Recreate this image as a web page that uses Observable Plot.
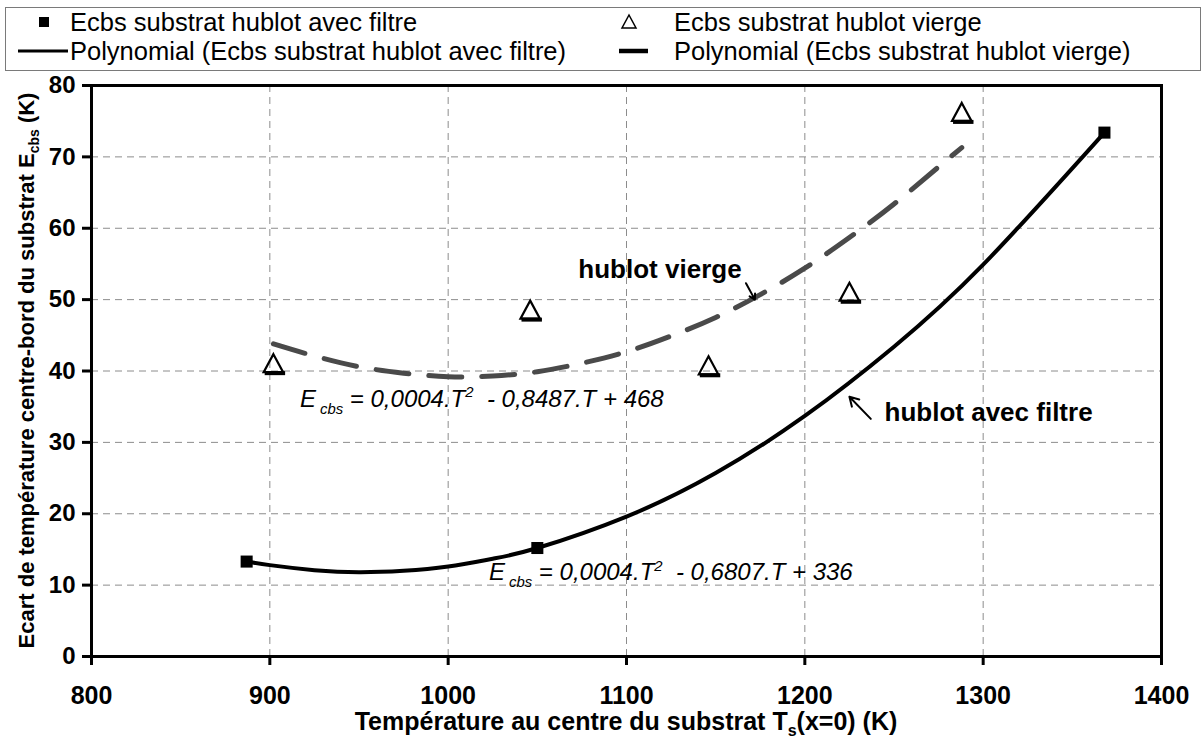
<!DOCTYPE html>
<html>
<head>
<meta charset="utf-8">
<script src="https://cdn.jsdelivr.net/npm/d3@7"></script>
<script src="https://cdn.jsdelivr.net/npm/@observablehq/plot@0.6"></script>
<style>
  html, body { margin: 0; padding: 0; background: #fff; }
  #chart { width: 1204px; height: 737px; position: relative; font-family: "Liberation Sans", Arial, sans-serif; }
  #chart svg { display: block; }
  .pre { white-space: pre; }
</style>
</head>
<body>
<div id="chart"></div>
<script>
// ---- data ----
const tempFiltre = [887, 1050, 1368];
const ecbsFiltre = [13.3, 15.2, 73.4];
const tempVierge = [902, 1046, 1146, 1225, 1288];
const ecbsVierge = [41.1, 48.6, 40.8, 51.1, 76.3];
// polynomial trend lines
const polyFiltreT = [887, 900, 925, 950, 975, 1000, 1025, 1050, 1100, 1150, 1200, 1250, 1300, 1368];
const polyFiltreE = [13.3, 12.8, 12.1, 11.8, 12.0, 12.6, 13.7, 15.2, 19.6, 25.7, 33.7, 43.4, 54.9, 73.4];
const polyViergeT = [902, 925, 950, 975, 1000, 1025, 1050, 1075, 1100, 1125, 1150, 1175, 1200, 1225, 1250, 1275, 1288];
const polyViergeE = [43.8, 42.1, 40.6, 39.7, 39.2, 39.3, 39.9, 41.1, 42.7, 44.9, 47.5, 50.7, 54.4, 58.7, 63.4, 68.6, 71.3];
const xTicks = [800, 900, 1000, 1100, 1200, 1300, 1400];
const yTicks = [0, 10, 20, 30, 40, 50, 60, 70, 80];
const legendLabels = [
  "Ecbs substrat hublot avec filtre",
  "Ecbs substrat hublot vierge",
  "Polynomial (Ecbs substrat hublot avec filtre)",
  "Polynomial (Ecbs substrat hublot vierge)"
];
const xTitle = ["Température au centre du substrat T", "s", "(x=0) (K)"];
const yTitle = ["Ecart de température centre-bord du substrat E", "cbs", " (K)"];
const eqVierge = ["E", "cbs", " = 0,0004.T", "2", "  - 0,8487.T + 468"];
const eqFiltre = ["E", "cbs", " = 0,0004.T", "2", "  - 0,6807.T + 336"];
const noteVierge = "hublot vierge";
const noteFiltre = "hublot avec filtre";

// ---- tables built from the arrays ----
const filtre = tempFiltre.map((t, i) => ({t, e: ecbsFiltre[i]}));
const vierge = tempVierge.map((t, i) => ({t, e: ecbsVierge[i]}));
const polyFiltre = polyFiltreT.map((t, i) => ({t, e: polyFiltreE[i]}));
const polyVierge = polyViergeT.map((t, i) => ({t, e: polyViergeE[i]}));

const FONT = "'Liberation Sans', Arial, sans-serif";
const root = d3.select("#chart");

// ---- legend (above the plot) ----
const LH = 72;
const leg = root.append("svg").attr("width", 1204).attr("height", LH)
  .style("font-family", FONT);
leg.append("rect").attr("x", 5.5).attr("y", 7.5).attr("width", 1195).attr("height", 63)
  .attr("fill", "white").attr("stroke", "#7a7a7a").attr("stroke-width", 1);
leg.append("rect").attr("x", 39).attr("y", 17).attr("width", 10).attr("height", 10).attr("fill", "black");
leg.append("path").attr("d", "M629,15 L636,28 L622,28 Z").attr("fill", "none").attr("stroke", "black").attr("stroke-width", 1.5);
leg.append("line").attr("x1", 18).attr("x2", 68).attr("y1", 51).attr("y2", 51).attr("stroke", "black").attr("stroke-width", 3);
leg.append("line").attr("x1", 619).attr("x2", 648).attr("y1", 51).attr("y2", 51).attr("stroke", "black").attr("stroke-width", 4.5);
const legPos = [[70, 31], [674, 31], [70, 60], [674, 60]];
legendLabels.forEach((s, i) => {
  leg.append("text").attr("x", legPos[i][0]).attr("y", legPos[i][1])
    .attr("font-size", 25.5).attr("fill", "black").text(s);
});

// ---- triangle symbol centred on its bounding box, plus its heavy base ----
const openTriangle = {
  draw(ctx, size) {
    const r = Math.sqrt(size / Math.PI);
    const hw = 1.35 * r, hh = 1.25 * r;
    ctx.moveTo(0, -hh); ctx.lineTo(hw, hh); ctx.lineTo(-hw, hh); ctx.closePath();
  }
};
const triangleBase = {
  draw(ctx, size) {
    const r = Math.sqrt(size / Math.PI);
    const hw = 1.35 * r, hh = 1.25 * r;
    ctx.moveTo(-hw + 1, hh - 1); ctx.lineTo(hw + 2, hh - 1); ctx.lineTo(hw + 2, hh + 3); ctx.lineTo(-hw + 1, hh + 3); ctx.closePath();
  }
};

const gridStyle = {stroke: "#8c8c8c", strokeOpacity: 1, strokeWidth: 1, strokeDasharray: "7,5"};

const plot = Plot.plot({
  width: 1204,
  height: 665,
  marginTop: 13,
  marginRight: 43,
  marginBottom: 81,
  marginLeft: 91,
  style: {fontFamily: FONT, color: "black", background: "transparent", overflow: "visible"},
  x: {domain: [800, 1400]},
  y: {domain: [0, 80]},
  marks: [
    Plot.gridX(xTicks.slice(1, -1), gridStyle),
    Plot.gridY(yTicks.slice(1, -1), gridStyle),
    Plot.line(polyVierge, {x: "t", y: "e", curve: "natural", stroke: "#4a4a4a", strokeWidth: 5, strokeDasharray: "33,20"}),
    Plot.line(polyFiltre, {x: "t", y: "e", curve: "natural", stroke: "black", strokeWidth: 4}),
    Plot.dot(filtre, {x: "t", y: "e", symbol: "square", fill: "black", r: 6.8}),
    Plot.dot(vierge, {x: "t", y: "e", symbol: openTriangle, fill: "none", stroke: "black", strokeWidth: 2.2, r: 7.2}),
    Plot.dot(vierge, {x: "t", y: "e", symbol: triangleBase, fill: "black", stroke: "none", r: 7.2}),
    Plot.arrow([0], {x1: 1167, y1: 52.3, x2: 1172, y2: 50.0, stroke: "black", strokeWidth: 2, headLength: 9}),
    Plot.arrow([0], {x1: 1237, y1: 33.3, x2: 1225, y2: 36.4, stroke: "black", strokeWidth: 2, headLength: 10}),
    Plot.text([noteVierge], {x: 1073, y: 54.2, text: d => d, textAnchor: "start", fontSize: 26, fontWeight: "bold", fill: "black"}),
    Plot.text([noteFiltre], {x: 1244.7, y: 34.1, text: d => d, textAnchor: "start", fontSize: 26, fontWeight: "bold", fill: "black"}),
    Plot.frame({stroke: "black", strokeWidth: 3}),
    Plot.axisX(xTicks, {label: null, tickSize: 9, tickPadding: 21, strokeWidth: 3, fontSize: 25, fontWeight: "bold", tickFormat: d => String(d)}),
    Plot.axisY(yTicks, {label: null, tickSize: 9, tickPadding: 7, strokeWidth: 3, fontSize: 24, fontWeight: "bold", tickFormat: d => String(d)})
  ]
});
root.node().appendChild(plot);

const svg = d3.select(plot);
svg.selectAll('g[aria-label="x-axis tick label"]').attr("font-weight", "bold").attr("font-size", 25);
svg.selectAll('g[aria-label="y-axis tick label"]').attr("font-weight", "bold").attr("font-size", 24);

const sx = plot.scale("x"), sy = plot.scale("y");

// equations with sub/superscripts
function equation(parts, t, e, size) {
  const txt = svg.append("text").attr("class", "pre")
    .attr("x", sx.apply(t)).attr("y", sy.apply(e))
    .attr("text-anchor", "start")
    .attr("font-size", size).attr("font-style", "italic").attr("fill", "black");
  const sub = size * 0.62;
  txt.append("tspan").text(parts[0]);
  txt.append("tspan").attr("dx", 4).attr("dy", size * 0.28).attr("font-size", sub).text(parts[1]);
  txt.append("tspan").attr("dy", -size * 0.28).text(parts[2]);
  txt.append("tspan").attr("dy", -size * 0.4).attr("font-size", sub).text(parts[3]);
  txt.append("tspan").attr("dy", size * 0.4).text(parts[4]);
}
equation(eqVierge, 917.2, 34.9, 24);
equation(eqFiltre, 1023.2, 10.6, 24);

// axis titles
const [x0, x1] = sx.range;
const [y0, y1] = sy.range;
const xt = svg.append("text").attr("x", (x0 + x1) / 2).attr("y", 658)
  .attr("text-anchor", "middle").attr("font-size", 25).attr("font-weight", "bold").attr("fill", "black");
xt.append("tspan").text(xTitle[0]);
xt.append("tspan").attr("dy", 6).attr("font-size", 16).text(xTitle[1]);
xt.append("tspan").attr("dy", -6).text(xTitle[2]);

const yt = svg.append("text").attr("transform", `translate(34,${(y0 + y1) / 2}) rotate(-90)`)
  .attr("text-anchor", "middle").attr("font-size", 22).attr("font-weight", "bold").attr("fill", "black");
yt.append("tspan").text(yTitle[0]);
yt.append("tspan").attr("dy", 5).attr("font-size", 14).text(yTitle[1]);
yt.append("tspan").attr("dy", -5).text(yTitle[2]);
</script>
</body>
</html>
